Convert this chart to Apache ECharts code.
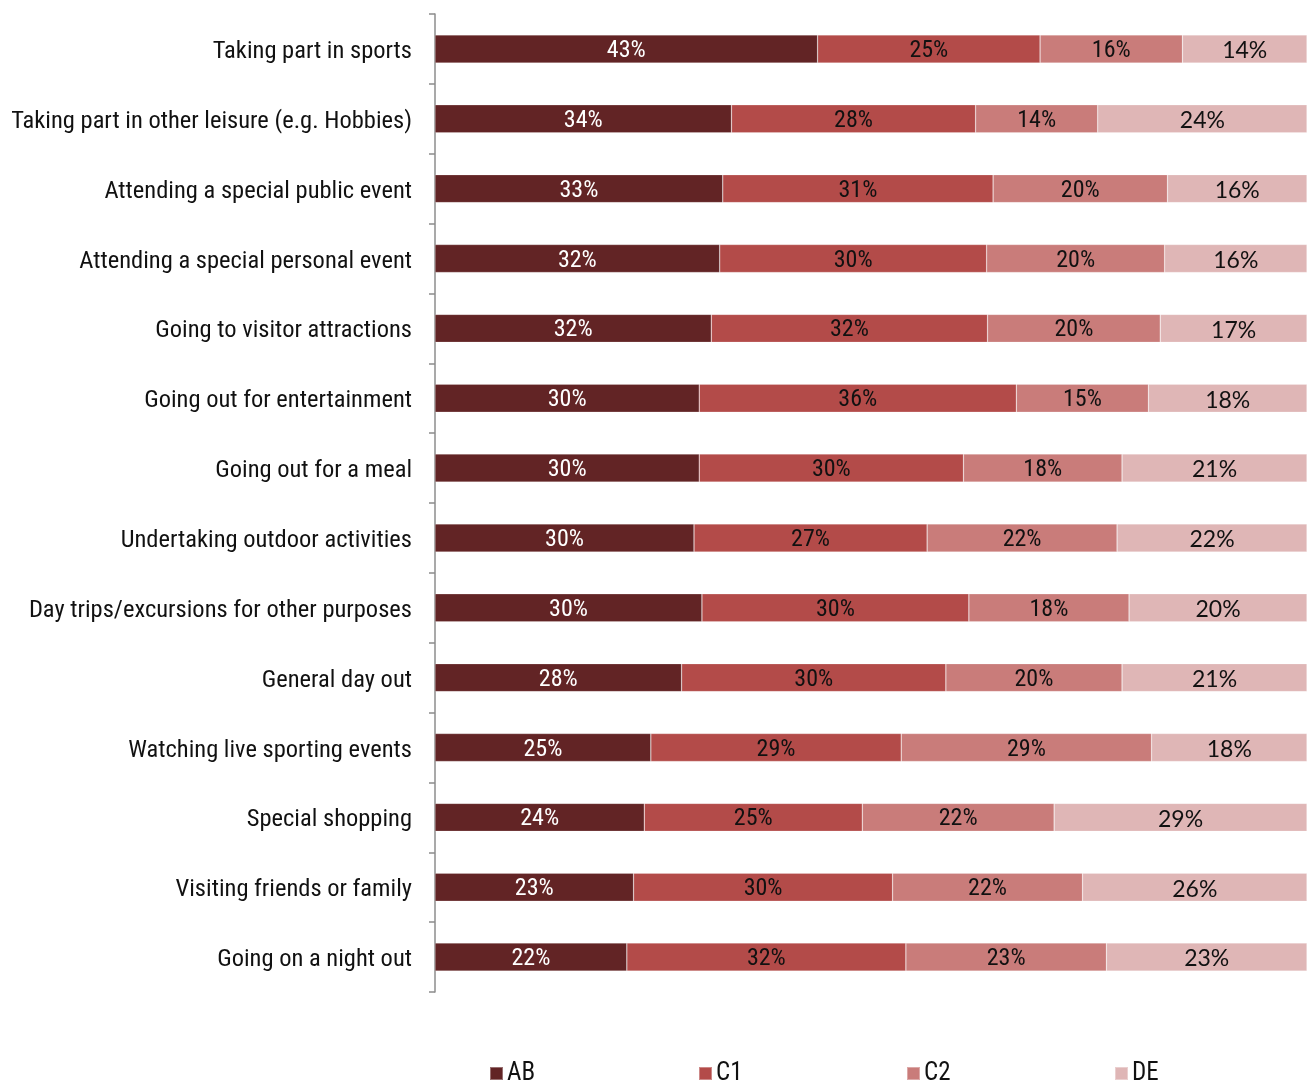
<!DOCTYPE html>
<html>
<head>
<meta charset="utf-8">
<title>Activities by social grade</title>
<script src="https://cdn.jsdelivr.net/npm/echarts@6/dist/echarts.min.js"></script>
<style>
  html, body { margin: 0; padding: 0; background: #fff; }
  #chart { width: 1307px; height: 1082px; }
</style>
</head>
<body>
<div id="chart"></div>
<script>
// Activities, listed top to bottom
const categories = [
  'Taking part in sports',
  'Taking part in other leisure (e.g. Hobbies)',
  'Attending a special public event',
  'Attending a special personal event',
  'Going to visitor attractions',
  'Going out for entertainment',
  'Going out for a meal',
  'Undertaking outdoor activities',
  'Day trips/excursions for other purposes',
  'General day out',
  'Watching live sporting events',
  'Special shopping',
  'Visiting friends or family',
  'Going on a night out'
];

// Share of each social grade (%)
const AB = [43, 34, 33, 32, 32, 30, 30, 30, 30, 28, 25, 24, 23, 22];
const C1 = [25, 28, 31, 30, 32, 36, 30, 27, 30, 30, 29, 25, 30, 32];
const C2 = [16, 14, 20, 20, 20, 15, 18, 22, 18, 20, 29, 22, 22, 23];
const DE = [14, 24, 16, 16, 17, 18, 21, 22, 20, 21, 18, 29, 26, 23];

const seriesNames = ['AB', 'C1', 'C2', 'DE'];
const seriesValues = [AB, C1, C2, DE];
const colors = ['#622425', '#b34b49', '#c97c7a', '#dfb6b6'];
const labelColors = ['#ffffff', '#111111', '#111111', '#111111'];

const narrow = "'Liberation Sans Narrow', 'Arial Narrow', 'Roboto Condensed', sans-serif";
const rounded = "Lato, 'Open Sans', sans-serif";

// Each row is stacked to 100%; labels show the stated share
const totals = categories.map((_, i) => seriesValues.reduce((s, arr) => s + arr[i], 0));

const series = seriesNames.map((name, k) => ({
  name: name,
  type: 'bar',
  stack: 'total',
  barWidth: 28,
  itemStyle: { color: colors[k], borderColor: 'rgba(255,255,255,0.35)', borderWidth: 0.6 },
  label: {
    show: true,
    position: 'inside',
    offset: [0, 2],
    color: labelColors[k],
    fontFamily: k === 3 ? rounded : narrow,
    fontSize: k === 3 ? 23 : 24,
    formatter: p => seriesValues[k][p.dataIndex] + '%'
  },
  data: seriesValues[k].map((v, i) => v / totals[i] * 100)
}));

const legendLeft = [489, 698, 906, 1114];
const legends = seriesNames.map((name, k) => ({
  data: [name],
  left: legendLeft[k],
  top: 1061,
  padding: 0,
  itemWidth: 13,
  itemHeight: 13,
  itemGap: 4,
  icon: 'rect',
  textStyle: { fontFamily: narrow, fontSize: 25, color: '#111', padding: [3, 0, 0, -1] },
  selectedMode: false
}));

const chart = echarts.init(document.getElementById('chart'), null, { renderer: 'canvas' });
chart.setOption({
  animation: false,
  backgroundColor: '#ffffff',
  grid: { left: 435, right: 0, top: 14, bottom: 90, containLabel: false },
  legend: legends,
  xAxis: {
    type: 'value',
    min: 0,
    max: 100,
    show: false
  },
  yAxis: {
    type: 'category',
    data: categories,
    inverse: true,
    axisLine: { show: true, lineStyle: { color: '#8c8c8c', width: 1.5 } },
    axisTick: { show: true, length: 6, lineStyle: { color: '#8c8c8c', width: 1.5 } },
    axisLabel: {
      margin: 23,
      formatter: v => '{t|' + v + '}',
      rich: {
        t: { fontFamily: narrow, fontSize: 24.5, color: '#111', padding: [6, 0, 0, 0] }
      }
    },
    splitLine: { show: false }
  },
  series: series
});
</script>
</body>
</html>
